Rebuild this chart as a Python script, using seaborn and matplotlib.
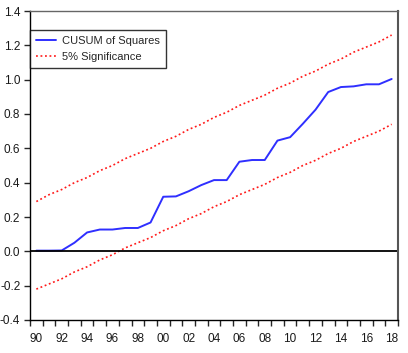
import pandas as pd
import numpy as np
import matplotlib
matplotlib.use("Agg")
import matplotlib.pyplot as plt
import seaborn as sns

years = list(range(1990, 2019))
cusum_sq = [0.004, 0.004, 0.005, 0.05, 0.11, 0.127, 0.127, 0.136, 0.136, 0.168,
            0.318, 0.32, 0.35, 0.386, 0.415, 0.415, 0.522, 0.532, 0.532, 0.645,
            0.665, 0.743, 0.825, 0.928, 0.957, 0.961, 0.973, 0.973, 1.004]
upper = [0.29, 0.33, 0.36, 0.40, 0.43, 0.47, 0.50, 0.54, 0.57, 0.60,
         0.64, 0.67, 0.71, 0.74, 0.78, 0.81, 0.85, 0.88, 0.91, 0.95,
         0.98, 1.02, 1.05, 1.09, 1.12, 1.16, 1.19, 1.22, 1.26]
lower = [-0.22, -0.19, -0.16, -0.12, -0.09, -0.05, -0.02, 0.02, 0.05, 0.08,
         0.12, 0.15, 0.19, 0.22, 0.26, 0.29, 0.33, 0.36, 0.39, 0.43,
         0.46, 0.50, 0.53, 0.57, 0.60, 0.64, 0.67, 0.70, 0.74]
year_labels = ['90', '92', '94', '96', '98', '00', '02', '04', '06', '08',
               '10', '12', '14', '16', '18']

df = pd.DataFrame({'year': years, 'cusum': cusum_sq, 'upper': upper, 'lower': lower})

sns.set_style("ticks")
plt.rcParams['font.family'] = ['Liberation Sans', 'DejaVu Sans']

fig, ax = plt.subplots(figsize=(4.08, 3.53), dpi=100)
fig.subplots_adjust(left=30/408, right=398/408, top=1-11/353, bottom=1-320/353)

sns.lineplot(data=df, x='year', y='cusum', color='#2f2fff', linewidth=1.4,
             label='CUSUM of Squares', ax=ax)
sns.lineplot(data=df, x='year', y='upper', color='#ff1a1a', linewidth=1.2,
             linestyle=(0, (1.1, 1.6)), label='5% Significance', ax=ax)
sns.lineplot(data=df, x='year', y='lower', color='#ff1a1a', linewidth=1.2,
             linestyle=(0, (1.1, 1.6)), ax=ax)
ax.axhline(0, color='black', linewidth=1.3)

ax.set_xlim(1989.5, 2018.5)
ax.set_ylim(-0.4, 1.4)
ax.set_xticks(np.arange(1990, 2019, 2))
ax.set_xticklabels(year_labels)
ax.set_xticks(np.arange(1989.5, 2019, 1), minor=True)
ax.tick_params(axis='x', which='major', length=0, pad=9, labelsize=8.5, colors='#1a1a1a')
ax.tick_params(axis='x', which='minor', length=4, width=1, direction='out')
ax.set_yticks(np.arange(-0.4, 1.41, 0.2))
ax.set_yticklabels([f'{v:.1f}' for v in np.arange(-0.4, 1.41, 0.2)])
ax.tick_params(axis='y', length=4, width=1, direction='out', labelsize=8.5,
               labelcolor='#1a1a1a', pad=3)
ax.set_xlabel('')
ax.set_ylabel('')

for s in ax.spines.values():
    s.set_color('black')
    s.set_linewidth(1)
ax.spines['right'].set_color('#555555')
ax.spines['right'].set_linewidth(1.5)
ax.spines['top'].set_color('#666666')

leg = ax.legend(loc='upper left', bbox_to_anchor=(0.0, 0.94), fontsize=8,
                frameon=True, fancybox=False, borderpad=0.55, labelspacing=0.6,
                handlelength=1.8, handletextpad=0.5, borderaxespad=0)
leg.get_frame().set_edgecolor('black')
leg.get_frame().set_linewidth(1)

plt.savefig('out.png', dpi=100)
